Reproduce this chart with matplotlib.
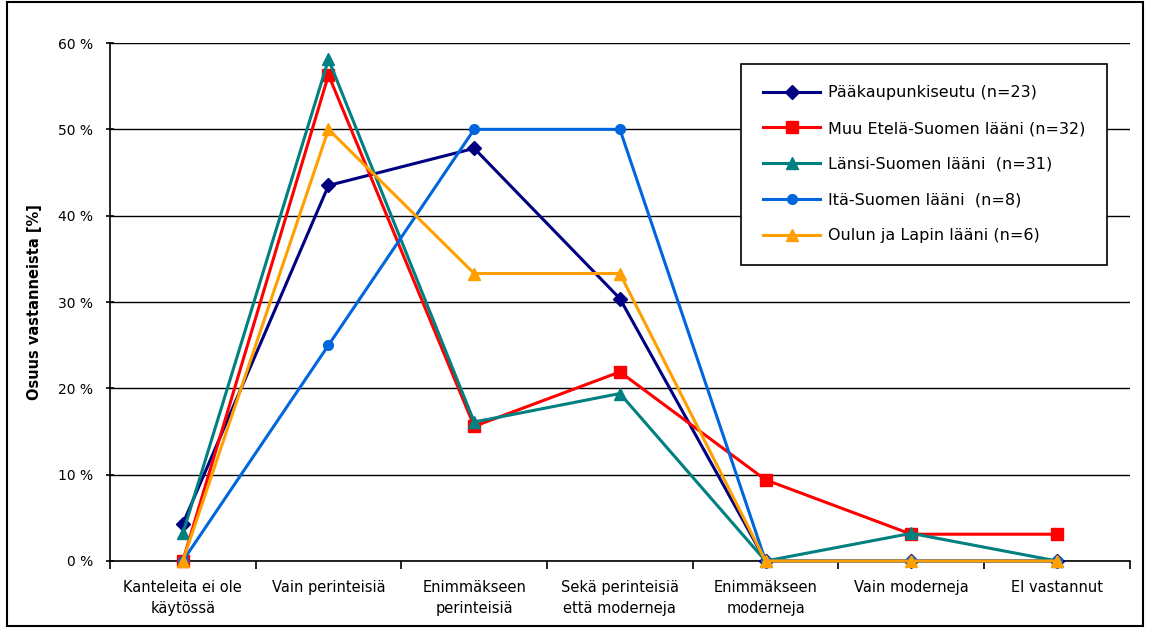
import matplotlib.pyplot as plt
from matplotlib.patches import Rectangle
import numpy as np

categories = ["Kanteleita ei ole\nkäytössä", "Vain perinteisiä", "Enimmäkseen\nperinteisiä",
              "Sekä perinteisiä\nettä moderneja", "Enimmäkseen\nmoderneja", "Vain moderneja",
              "EI vastannut"]

paakaupunkiseutu = [4.3, 43.5, 47.8, 30.4, 0, 0, 0]
muu_etela = [0, 56.3, 15.6, 21.9, 9.4, 3.1, 3.1]
lansi = [3.2, 58.1, 16.1, 19.4, 0, 3.2, 0]
ita = [0, 25.0, 50.0, 50.0, 0, 0, 0]
oulu_lappi = [0, 50.0, 33.3, 33.3, 0, 0, 0]

series = [
    ("Pääkaupunkiseutu (n=23)", paakaupunkiseutu, "#000080", "D", 7),
    ("Muu Etelä-Suomen lääni (n=32)", muu_etela, "#ff0000", "s", 8),
    ("Länsi-Suomen lääni  (n=31)", lansi, "#008080", "^", 8),
    ("Itä-Suomen lääni  (n=8)", ita, "#0066dd", "o", 7),
    ("Oulun ja Lapin lääni (n=6)", oulu_lappi, "#ffa000", "^", 8),
]

fig = plt.figure(figsize=(11.49, 6.28), dpi=100)
ax = fig.add_axes([0.0957, 0.1067, 0.8876, 0.8248])

x = np.arange(len(categories))
for label, vals, color, marker, ms in series:
    ax.plot(x, vals, color=color, marker=marker, markersize=ms, linewidth=2.2,
            label=label, clip_on=False, zorder=3)

ax.set_xlim(-0.5, len(categories) - 0.5)
ax.set_ylim(0, 60)
ax.set_yticks(range(0, 61, 10))
ax.set_yticklabels([f"{v} %" for v in range(0, 61, 10)], fontsize=10)
ax.yaxis.grid(True, color="black", linewidth=1)
ax.set_axisbelow(True)
ax.set_xticks(x)
ax.set_xticklabels(categories, fontsize=10.5, linespacing=1.5)
ax.tick_params(axis="x", length=0, pad=14)
ax.set_xticks(np.arange(-0.5, len(categories)), minor=True)
ax.tick_params(axis="x", which="minor", length=6, width=1.2, direction="out")
ax.tick_params(axis="y", length=6, width=1.2, direction="inout", pad=9)
for side in ["top", "right"]:
    ax.spines[side].set_visible(False)
ax.spines["left"].set_linewidth(1.2)
ax.spines["bottom"].set_linewidth(1.2)
ax.set_ylabel("Osuus vastanneista [%]", fontsize=10.5, fontweight="bold", labelpad=12)

leg = ax.legend(loc="upper right", bbox_to_anchor=(0.978, 0.96), fontsize=11.5,
                frameon=True, fancybox=False, edgecolor="black", framealpha=1,
                labelspacing=1.3, borderpad=1.35, handlelength=3.6, handletextpad=0.5,
                borderaxespad=0)
leg.get_frame().set_linewidth(1.2)

fig.patches.append(Rectangle((0.006, 0.003), 0.989, 0.994, transform=fig.transFigure,
                             fill=False, edgecolor="black", linewidth=1.5))

plt.savefig("out.png")
